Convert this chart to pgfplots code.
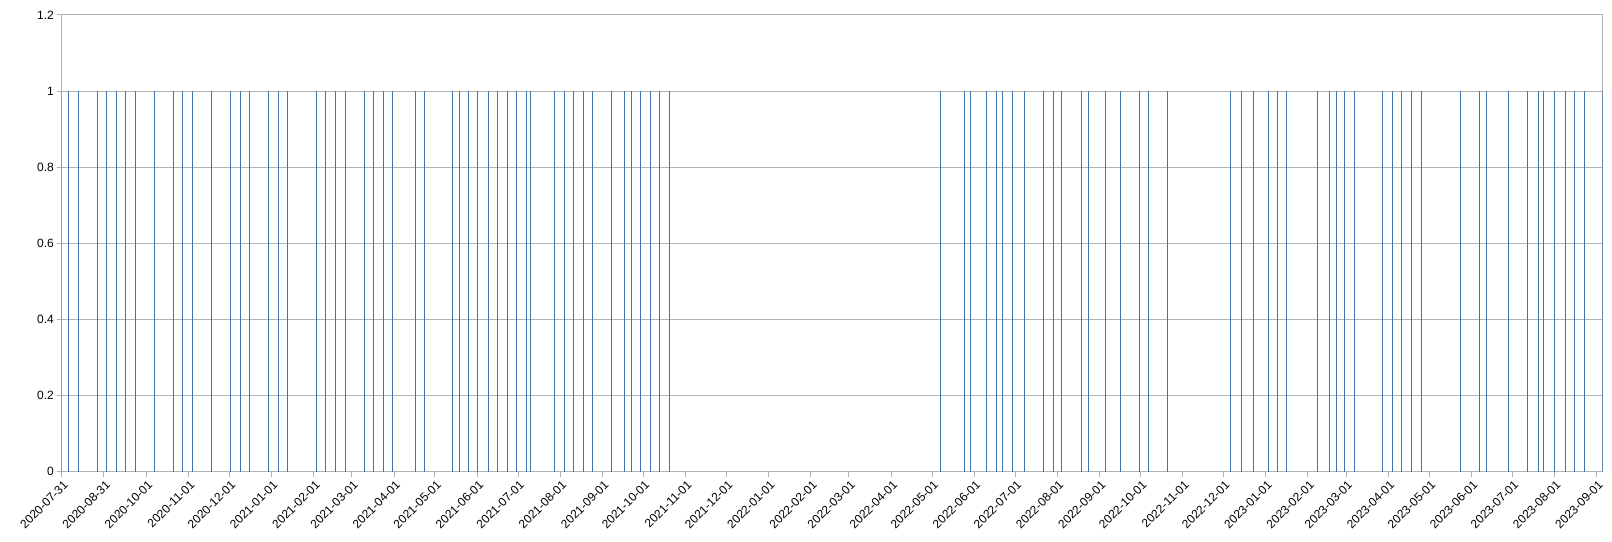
\documentclass[border=0pt]{standalone}
\usepackage{pgfplots}
\pgfplotsset{compat=1.18}
\usepackage{fontspec}
\setmainfont{Liberation Sans}
\definecolor{barblue}{RGB}{66,117,172}
\definecolor{gridgray}{RGB}{179,179,179}
\begin{document}
\begin{tikzpicture}
\begin{axis}[
  name=ax,
  scale only axis,
  width=1155.75pt, height=342.6pt,
  xmin=0, xmax=1131.4,
  ymin=0, ymax=1.2,
  ytick={0,0.2,0.4,0.6,0.8,1,1.2},
  yticklabels={0,0.2,0.4,0.6,0.8,1,1.2},
  xtick={0,31,62,93,123,154,185,213,244,274,305,335,366,397,427,458,488,519,550,578,609,639,670,700,731,762,792,823,853,884,915,943,974,1004,1035,1065,1096,1127},
  xticklabels={2020-07-31,2020-08-31,2020-10-01,2020-11-01,2020-12-01,2021-01-01,2021-02-01,2021-03-01,2021-04-01,2021-05-01,2021-06-01,2021-07-01,2021-08-01,2021-09-01,2021-10-01,2021-11-01,2021-12-01,2022-01-01,2022-02-01,2022-03-01,2022-04-01,2022-05-01,2022-06-01,2022-07-01,2022-08-01,2022-09-01,2022-10-01,2022-11-01,2022-12-01,2023-01-01,2023-02-01,2023-03-01,2023-04-01,2023-05-01,2023-06-01,2023-07-01,2023-08-01,2023-09-01},
  xticklabel style={rotate=45, anchor=north east, inner sep=1pt, font=\fontsize{9}{10}\selectfont, yshift=-1pt},
  yticklabel style={font=\fontsize{9}{10}\selectfont, inner sep=2pt},
  tick align=outside,
  major tick length=3.75pt,
  xtick pos=bottom, ytick pos=left,
  tick style={gridgray, line width=0.75pt},
  axis line style={gridgray, line width=0.75pt},
  ymajorgrids,
  grid style={gridgray, line width=0.75pt},
  /pgf/number format/assume math mode=true,
]
\addplot[ycomb, barblue, line width=0.75pt, mark=none] coordinates {
(0,1) (5,1) (12,1) (26,1) (33,1) (40,1) (47,1) (54,1) (68,1) (82,1) (89,1) (96,1)
(110,1) (124,1) (131,1) (138,1) (152,1) (159,1) (166,1) (187,1) (194,1) (201,1)
(208,1) (222,1) (229,1) (236,1) (243,1)
(260,1) (266,1) (287,1) (292,1) (299,1) (305,1) (313,1) (320,1) (327,1) (334,1)
(341,1) (344,1) (362,1) (369,1) (376,1) (383,1) (390,1) (404,1) (413,1) (418,1)
(425,1) (432,1) (439,1) (446,1)
(645,1) (663,1) (667,1) (679,1) (686,1) (691,1) (698,1) (707,1) (721,1) (728,1)
(734,1) (749,1) (754,1) (766,1) (777,1) (791,1) (798,1) (812,1)
(858,1) (866,1) (875,1) (886,1) (893,1) (899,1) (922,1) (931,1) (936,1) (942,1)
(949,1) (970,1) (977,1) (984,1) (991,1) (998,1) (1027,1) (1041,1) (1046,1)
(1062,1) (1076,1) (1084,1) (1088,1) (1096,1) (1104,1) (1111,1) (1118,1) (1131,1)
};
\end{axis}
\pgfresetboundingbox
\path ([xshift=-46.3pt,yshift=-52.7pt]ax.south west) rectangle ([xshift=7pt,yshift=11.2pt]ax.north east);
\end{tikzpicture}
\end{document}
